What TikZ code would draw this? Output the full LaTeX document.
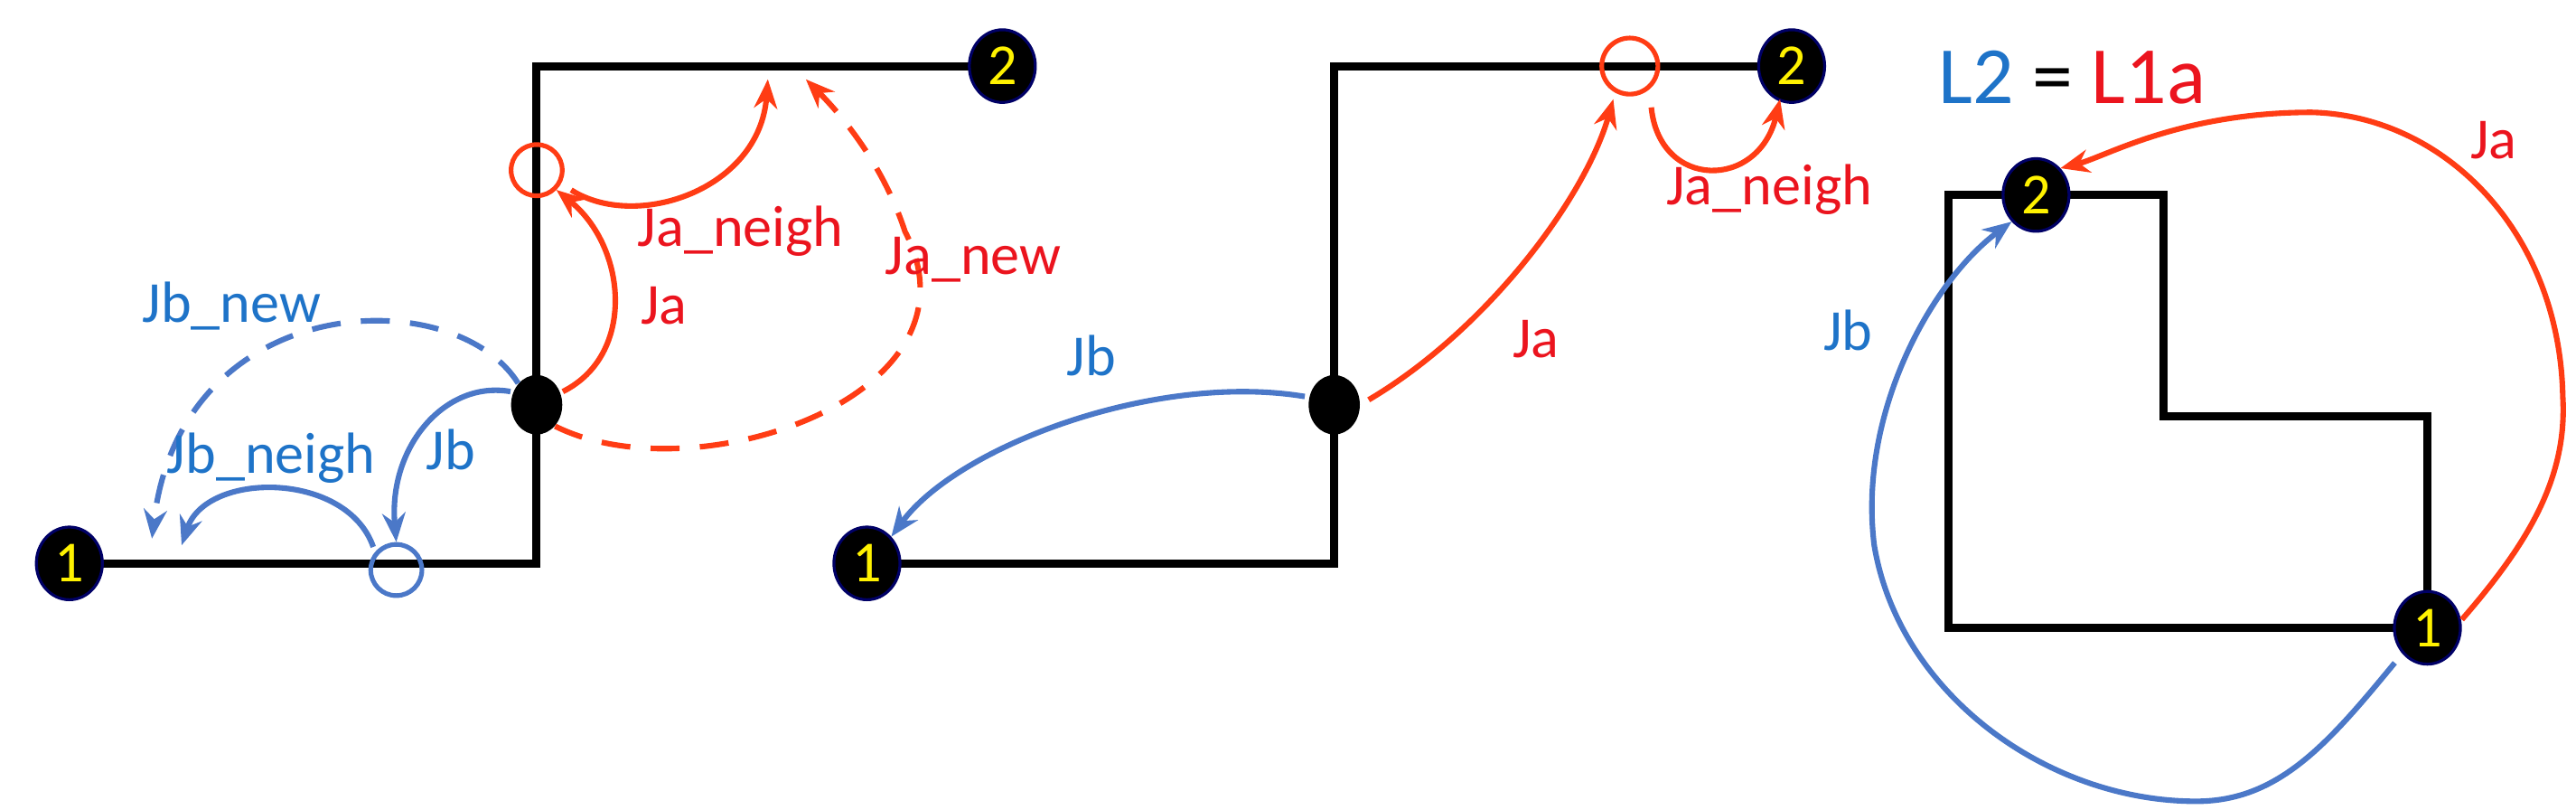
\documentclass[tikz,border=0pt]{standalone}
\usepackage{fontspec}
\setmainfont{Carlito}
\usetikzlibrary{arrows.meta,shapes.geometric}
\definecolor{jred}{RGB}{255,60,20}
\definecolor{tred}{RGB}{235,20,30}
\definecolor{jblue}{RGB}{75,120,200}
\definecolor{tblue}{RGB}{30,115,200}
\begin{document}
\begin{tikzpicture}[x=0.02cm,y=-0.02cm,
  wire/.style={line width=2.8pt,line join=miter},
  endpt/.style={ellipse,fill=black,draw=black!60!blue,line width=1pt,minimum width=0.8cm,minimum height=0.88cm,inner sep=0pt,text=yellow,font=\fontsize{20}{20}\selectfont},
  mid/.style={ellipse,fill=black,minimum width=0.62cm,minimum height=0.72cm,inner sep=0pt},
  ring/.style={circle,draw,line width=1.6pt,minimum size=0.62cm,inner sep=0pt},
  ra/.style={jred,line width=1.9pt,-{Stealth[length=10pt,width=8pt]}},
  ba/.style={jblue,line width=1.9pt,-{Stealth[length=10pt,width=8pt]}},
  rl/.style={tred,font=\fontsize{20}{20}\selectfont},
  bl/.style={tblue,font=\fontsize{20}{20}\selectfont},
  dsh/.style={dash pattern=on 10pt off 7pt}]
\useasboundingbox (0,0) rectangle (1560,490);
% panel 1
\draw[wire] (42,341) -- (325,341) -- (325,40) -- (607,40);
\node[endpt] (a1) at (42,341) {1};
\node[endpt] (a2) at (607,40) {2};
\node[mid] (am) at (325,245) {};
\node[ring,jred] (ar) at (325,103) {};
\node[ring,jblue] (ab) at (240,345) {};
\coordinate (aT1) at (465,48); \coordinate (aT2) at (488,48);
\coordinate (aL1) at (110,330); \coordinate (aL2) at (92,326);
\draw[ra] (am.east) ++(0,-8) .. controls (385,215) and (380,150) .. (ar.south east);
\draw[ra] (ar.east) ++(4,12) .. controls (385,140) and (460,115) .. (aT1);
\draw[ra,dsh] (am.south east) .. controls (420,300) and (600,240) .. (548,140) .. controls (535,100) and (510,70) .. (aT2);
\draw[ba] (am.west) ++(0,-8) .. controls (270,230) and (235,270) .. (ab.north);
\draw[ba] (ab.north west) ++(-2,-2) .. controls (210,285) and (125,285) .. (aL1);
\draw[ba,dsh] (am.north west) .. controls (275,170) and (110,175) .. (aL2);
\node[rl,anchor=west] (t1) at (380,140) {Ja\_neigh};
\node[rl,anchor=west] (t2) at (382,185) {Ja};
\node[rl,anchor=west] (t3) at (530,157) {Ja\_new};
\node[bl,anchor=west] (t4) at (80,185) {Jb\_new};
\node[bl,anchor=west] (t5) at (95,277) {Jb\_neigh};
\node[bl,anchor=west] (t6) at (252,272) {Jb};
% panel 2
\draw[wire] (525,341) -- (808,341) -- (808,40) -- (1085,40);
\node[endpt] (b1) at (525,341) {1};
\node[endpt] (b2) at (1085,40) {2};
\node[mid] (bm) at (808,245) {};
\node[ring,jred,minimum width=0.6cm,minimum height=0.68cm] (br) at (987,40) {};
\draw[ra] (bm.east) ++(5,-3) .. controls (900,200) and (960,120) .. (977,60);
\draw[ra] (1000,65) .. controls (1005,115) and (1065,115) .. (1078,60);
\draw[ba] (bm.west) ++(-2,-5) .. controls (700,225) and (580,270) .. (b1.north east);
\node[rl,anchor=west] (t7) at (1003,115) {Ja\_neigh};
\node[rl,anchor=west] (t8) at (910,205) {Ja};
\node[bl,anchor=west] (t9) at (640,215) {Jb};
% panel 3
\node[font=\fontsize{28}{28}\selectfont,anchor=west] (eq) at (1168,47) {\textcolor{tblue}{L2} = \textcolor{tred}{L1a}};
\draw[wire] (1180,118) -- (1310,118) -- (1310,252) -- (1470,252) -- (1470,380) -- (1180,380) -- cycle;
\node[endpt] (c2) at (1233,118) {2};
\node[endpt] (c1) at (1470,380) {1};
\draw[ra] (c1.east) ++(0,-5) .. controls (1530,330) and (1555,290) .. (1552,240) .. controls (1550,140) and (1480,70) .. (1400,68) .. controls (1320,68) and (1275,95) .. (c2.north east);
\draw[ba] (c1.south west) ++(-5,5) .. controls (1410,450) and (1380,485) .. (1330,485) .. controls (1240,485) and (1150,420) .. (1135,330) .. controls (1125,250) and (1170,170) .. (c2.south west);
\node[rl,anchor=west] (t10) at (1490,85) {Ja};
\node[bl,anchor=west] (t11) at (1098,200) {Jb};
\end{tikzpicture}
\end{document}
